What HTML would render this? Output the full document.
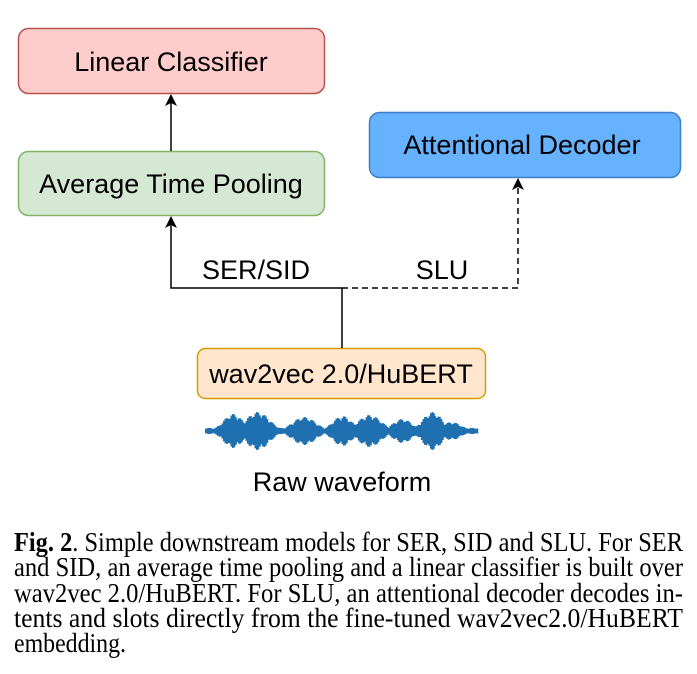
<!DOCTYPE html>
<html><head><meta charset="utf-8"><style>
body{margin:0;background:#fff;width:697px;height:669px;overflow:hidden}
</style></head><body>
<svg width="697" height="669" viewBox="0 0 697 669" xmlns="http://www.w3.org/2000/svg">
<g font-family="Liberation Sans, Arial, sans-serif" font-size="27" text-anchor="middle" fill="#000">
<rect x="18.5" y="28.5" width="306" height="65" rx="10" fill="#ffcccc" stroke="#b85450" stroke-width="1.5"/>
<text x="171" y="71">Linear Classifier</text>
<rect x="18.5" y="151.5" width="306" height="64" rx="10" fill="#d5e8d4" stroke="#82b366" stroke-width="1.5"/>
<text x="171" y="193">Average Time Pooling</text>
<rect x="369.5" y="112.5" width="311" height="65" rx="10" fill="#66b2ff" stroke="#3d7fc4" stroke-width="1.5"/>
<text x="522" y="154">Attentional Decoder</text>
<rect x="197.5" y="348.5" width="288" height="50" rx="8" fill="#ffe6cc" stroke="#d79b00" stroke-width="1.5"/>
<text x="341" y="383">wav2vec 2.0/HuBERT</text>
<text x="256" y="279">SER/SID</text>
<text x="442" y="279">SLU</text>
<text x="342" y="491">Raw waveform</text>
</g>
<g stroke="#000" stroke-width="1.5" fill="none">
<line x1="171" y1="151" x2="171" y2="100"/>
<polyline points="342,348 342,288 171,288 171,222"/>
<polyline points="342,288 518,288 518,184" stroke-dasharray="6,4"/>
</g>
<g fill="#000">
<path d="M171,94 L177,106 L171,103 L165,106 Z"/>
<path d="M171,216 L177,228 L171,225 L165,228 Z"/>
<path d="M518,178 L524,190 L518,187 L512,190 Z"/>
</g>
<g fill="#1f70b0" id="w"></g>
<g font-family="Liberation Serif, Times New Roman, serif" font-size="27" fill="#000">
<text x="14" y="551" textLength="669" lengthAdjust="spacingAndGlyphs"><tspan font-weight="bold">Fig. 2</tspan>. Simple downstream models for SER, SID and SLU. For SER</text>
<text x="14" y="576" textLength="669" lengthAdjust="spacingAndGlyphs">and SID, an average time pooling and a linear classifier is built over</text>
<text x="14" y="602" textLength="669" lengthAdjust="spacingAndGlyphs">wav2vec 2.0/HuBERT. For SLU, an attentional decoder decodes in-</text>
<text x="14" y="627" textLength="669" lengthAdjust="spacingAndGlyphs">tents and slots directly from the fine-tuned wav2vec2.0/HuBERT</text>
<text x="14" y="652" textLength="112" lengthAdjust="spacingAndGlyphs">embedding.</text>
</g>
</svg>
<script>
var g=document.getElementById('w'),s='';
var bumps=[[0.1,17,0.05],[0.19,19,0.06],[0.36,14,0.06],[0.5,15,0.05],[0.6,16,0.06],[0.72,12,0.05],[0.83,19,0.05],[0.9,9,0.05]];
function env(x){var t=(x-205)/273,v=0;bumps.forEach(function(b){v=Math.max(v,b[1]*Math.exp(-Math.pow((t-b[0])/b[2],2)))});return Math.max(v,3);}
for(var x=205;x<478;x+=1.5){var h=env(x)*(0.7+0.3*Math.abs(Math.sin(x*1.7)));s+='<rect x="'+x+'" y="'+(431-h)+'" width="1.8" height="'+(2*h)+'"/>';}
g.innerHTML=s;
</script>
</body></html>
